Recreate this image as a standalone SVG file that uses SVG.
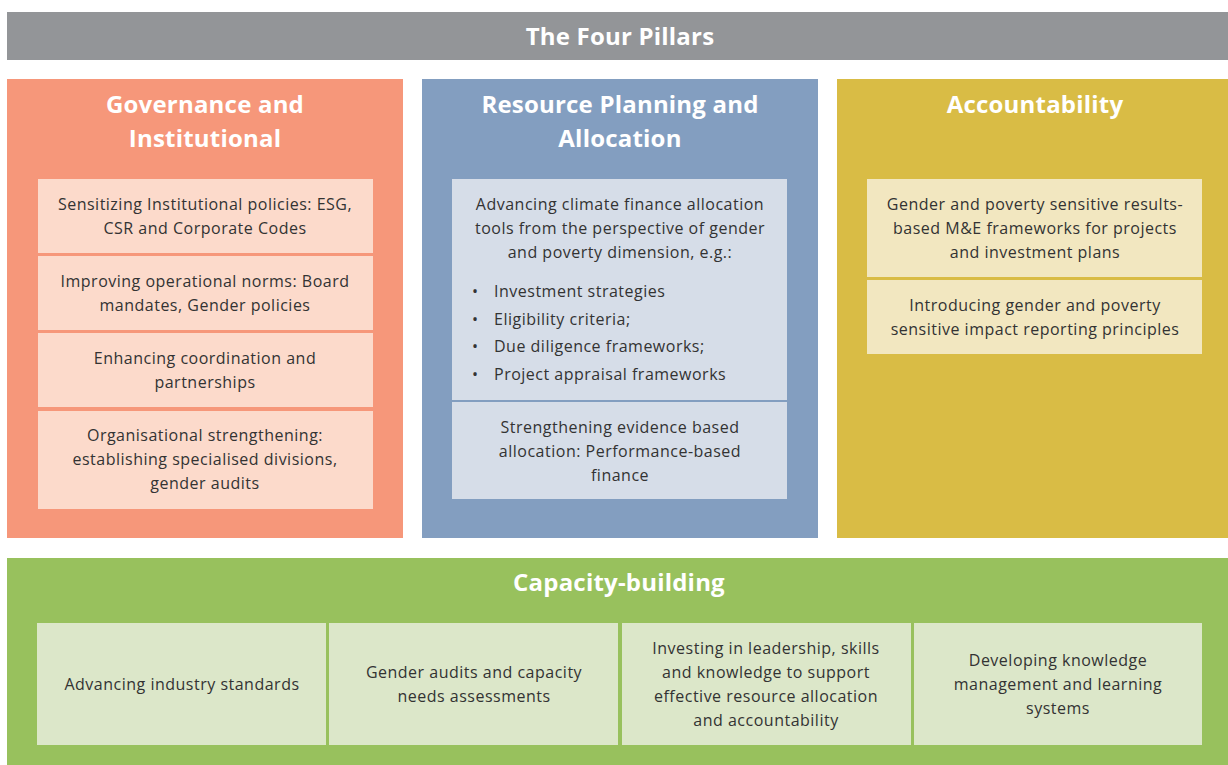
<svg xmlns="http://www.w3.org/2000/svg" width="1228" height="765" viewBox="0 0 1228 765">
<style>
.h{font-family:"Open Sans","Liberation Sans",sans-serif;font-weight:700;font-size:24px;letter-spacing:0.2px;fill:#ffffff;text-anchor:middle}
.t{font-family:"Open Sans","Liberation Sans",sans-serif;font-size:16px;letter-spacing:0.5px;fill:#333333;text-anchor:middle}
.l{font-family:"Open Sans","Liberation Sans",sans-serif;font-size:16px;letter-spacing:0.5px;fill:#333333;text-anchor:start}
</style>
<rect width="1228" height="765" fill="#ffffff"/>
<g id="title">
<rect x="7" y="12" width="1221" height="48" fill="#939598"/>
<text class="h" x="620" y="44.5">The Four Pillars</text>
</g>
<g id="governance">
<rect x="7" y="79" width="396" height="459" fill="#F6977A"/>
<text class="h" x="205" y="112.5">Governance and</text>
<text class="h" x="205" y="146.5">Institutional</text>
<g id="gov1"><rect x="38" y="179" width="335" height="74" fill="#FCDACB"/>
<text class="t" x="205" y="209.5">Sensitizing Institutional policies: ESG,</text>
<text class="t" x="205" y="233.5">CSR and Corporate Codes</text></g>
<g id="gov2"><rect x="38" y="256" width="335" height="74" fill="#FCDACB"/>
<text class="t" x="205" y="286.5">Improving operational norms: Board</text>
<text class="t" x="205" y="310.5">mandates, Gender policies</text></g>
<g id="gov3"><rect x="38" y="333" width="335" height="74" fill="#FCDACB"/>
<text class="t" x="205" y="363.5">Enhancing coordination and</text>
<text class="t" x="205" y="387.5">partnerships</text></g>
<g id="gov4"><rect x="38" y="411" width="335" height="98" fill="#FCDACB"/>
<text class="t" x="205" y="440.5">Organisational strengthening:</text>
<text class="t" x="205" y="464.5">establishing specialised divisions,</text>
<text class="t" x="205" y="488.5">gender audits</text></g>
</g>
<g id="resource">
<rect x="422" y="79" width="396" height="459" fill="#839EC0"/>
<text class="h" x="620" y="112.5">Resource Planning and</text>
<text class="h" x="620" y="146.5">Allocation</text>
<g id="res1"><rect x="452" y="179" width="335" height="221" fill="#D6DDE8"/>
<text class="t" x="620" y="209.5">Advancing climate finance allocation</text>
<text class="t" x="620" y="233.5">tools from the perspective of gender</text>
<text class="t" x="620" y="257.5">and poverty dimension, e.g.:</text>
<text class="l" x="472" y="296.5">•</text><text class="l" x="494" y="296.5">Investment strategies</text>
<text class="l" x="472" y="324.5">•</text><text class="l" x="494" y="324.5">Eligibility criteria;</text>
<text class="l" x="472" y="351.5">•</text><text class="l" x="494" y="351.5">Due diligence frameworks;</text>
<text class="l" x="472" y="379.5">•</text><text class="l" x="494" y="379.5">Project appraisal frameworks</text></g>
<g id="res2"><rect x="452" y="402" width="335" height="97" fill="#D6DDE8"/>
<text class="t" x="620" y="432.5">Strengthening evidence based</text>
<text class="t" x="620" y="456.5">allocation: Performance-based</text>
<text class="t" x="620" y="480.5">finance</text></g>
</g>
<g id="accountability">
<rect x="837" y="79" width="391" height="459" fill="#D9BC45"/>
<text class="h" x="1035" y="112.5">Accountability</text>
<g id="acc1"><rect x="867" y="179" width="335" height="98" fill="#F2E7C0"/>
<text class="t" x="1035" y="209.5">Gender and poverty sensitive results-</text>
<text class="t" x="1035" y="233.5">based M&amp;E frameworks for projects</text>
<text class="t" x="1035" y="257.5">and investment plans</text></g>
<g id="acc2"><rect x="867" y="280" width="335" height="74" fill="#F2E7C0"/>
<text class="t" x="1035" y="310.5">Introducing gender and poverty</text>
<text class="t" x="1035" y="334.5">sensitive impact reporting principles</text></g>
</g>
<g id="capacity">
<rect x="7" y="558" width="1221" height="207" fill="#98C15D"/>
<text class="h" x="619" y="590.5">Capacity-building</text>
<g id="cap1"><rect x="37" y="623" width="289" height="122" fill="#DCE7C9"/>
<text class="t" x="182" y="689.5">Advancing industry standards</text></g>
<g id="cap2"><rect x="329" y="623" width="289" height="122" fill="#DCE7C9"/>
<text class="t" x="474" y="677.5">Gender audits and capacity</text>
<text class="t" x="474" y="701.5">needs assessments</text></g>
<g id="cap3"><rect x="622" y="623" width="289" height="122" fill="#DCE7C9"/>
<text class="t" x="766" y="653.5">Investing in leadership, skills</text>
<text class="t" x="766" y="677.5">and knowledge to support</text>
<text class="t" x="766" y="701.5">effective resource allocation</text>
<text class="t" x="766" y="725.5">and accountability</text></g>
<g id="cap4"><rect x="914" y="623" width="288" height="122" fill="#DCE7C9"/>
<text class="t" x="1058" y="665.5">Developing knowledge</text>
<text class="t" x="1058" y="689.5">management and learning</text>
<text class="t" x="1058" y="713.5">systems</text></g>
</g>
<g id="connectors"></g>
</svg>
